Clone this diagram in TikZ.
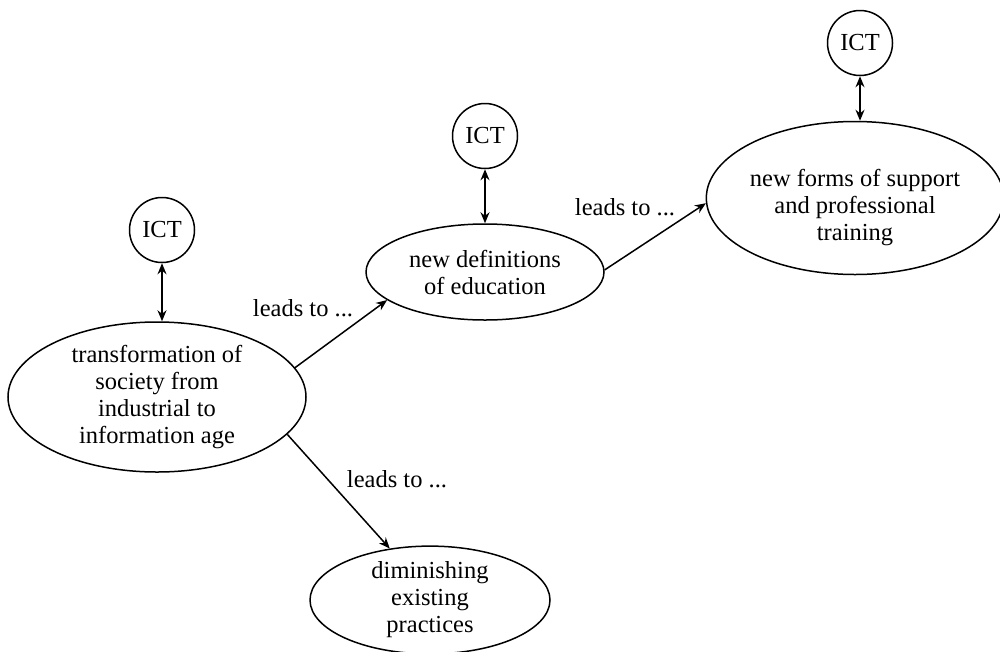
\documentclass[tikz,border=0pt]{standalone}
\usepackage{fontspec}
\setmainfont{Liberation Serif}
\usetikzlibrary{shapes.geometric,arrows.meta}
\begin{document}
\begin{tikzpicture}[x=1pt,y=-1pt,
  every node/.style={font=\fontsize{24.5pt}{27pt}\selectfont},
  oval/.style={draw,line width=1.5pt,ellipse,inner sep=0pt,align=center},
  ictnode/.style={draw,line width=1.5pt,circle,minimum size=65pt,inner sep=0pt},
  lead/.style={line width=1.5pt,-{Stealth[length=11pt,width=9pt]}},
  dbl/.style={line width=1.5pt,{Stealth[length=11pt,width=9pt]}-{Stealth[length=11pt,width=9pt]}},
  lbl/.style={inner sep=0pt}]
\useasboundingbox (0,0) rectangle (1000,651);
% ellipses
\node[oval,minimum width=298pt,minimum height=150pt] (e1) at (157,397)
  {transformation of\\society from\\industrial to\\information age};
\node[oval,minimum width=238pt,minimum height=96pt] (e2) at (485,272)
  {new definitions\\of education};
\node[oval,minimum width=289pt,minimum height=153pt] (e3) at (855,198)
  {\rule{0pt}{37pt}new forms of support\\and professional\\training};
\node[oval,minimum width=240pt,minimum height=94pt] (e4) at (430,600)
  {diminishing\\existing\\practices};
% ICT circles
\node[ictnode] (i1) at (162,230) {ICT};
\node[ictnode] (i2) at (485,136) {ICT};
\node[ictnode] (i3) at (860,43) {ICT};
% double arrows
\draw[dbl] (i1.south) -- (i1.south |- e1.north);
\draw[dbl] (i2.south) -- (i2.south |- e2.north);
\draw[dbl] (i3.south) -- (i3.south |- e3.north);
% leads to arrows
\draw[lead] (e1.12.6) -- (e2.196.6);
\draw[lead] (e2.1) -- (e3.182);
\draw[lead] (e1.-16.2) -- (e4.128.5);
% labels
\node[lbl] (l1) at (303,308) {leads to ...};
\node[lbl] (l2) at (625,207) {leads to ...};
\node[lbl] (l3) at (397,479) {leads to ...};
\end{tikzpicture}
\end{document}
